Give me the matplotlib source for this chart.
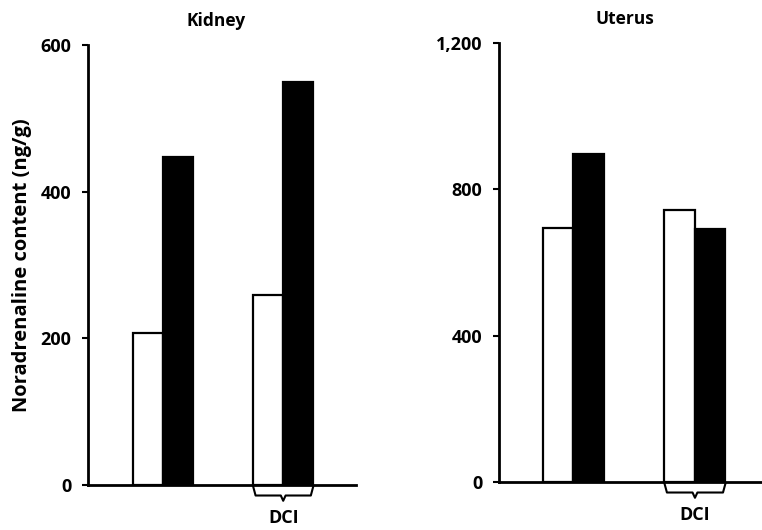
import numpy as np
import matplotlib.pyplot as plt

plt.rcParams['font.family'] = ['Open Sans', 'DejaVu Sans']
plt.rcParams['font.weight'] = 'bold'

groups = ['Control', 'DCI']
kidney_open = [207, 259]
kidney_filled = [447, 549]
uterus_open = [694, 744]
uterus_filled = [897, 692]

kidney_ticks = [0, 200, 400, 600]
kidney_ticklabels = ['0', '200', '400', '600']
uterus_ticks = [0, 400, 800, 1200]
uterus_ticklabels = ['0', '400', '800', '1,200']

fig = plt.figure(figsize=(7.62, 5.30), dpi=100)
ax1 = fig.add_axes([0.1155, 0.085, 0.352, 0.83])
ax2 = fig.add_axes([0.655, 0.0906, 0.345, 0.828])

w = 0.25
pos = np.arange(1, len(groups) + 1)


def draw_panel(ax, open_vals, filled_vals, ticks, ticklabels, ymax, xlim, title):
    ax.bar(pos - w / 2, open_vals, w, color='white', edgecolor='black', linewidth=1.6)
    ax.bar(pos + w / 2, filled_vals, w, color='black', edgecolor='black', linewidth=1.6)
    ax.set_xlim(*xlim)
    ax.set_ylim(0, ymax)
    ax.set_yticks(ticks)
    ax.set_yticklabels(ticklabels, fontsize=13, fontweight='bold')
    ax.set_xticks([])
    for s in ['top', 'right']:
        ax.spines[s].set_visible(False)
    ax.spines['left'].set_linewidth(2)
    ax.spines['bottom'].set_linewidth(2)
    ax.tick_params(axis='y', length=4, width=1.5, direction='out', pad=8)
    ax.text(np.mean(xlim) - 0.05, ymax * 1.035, title, ha='center', va='bottom',
            fontsize=12.5, fontweight='bold')

    # brace under the DCI group
    x0, x1 = pos[1] - w, pos[1] + w
    xm = pos[1]
    d = ymax * 0.012
    yb = -ymax * 0.024
    ax.plot([x0, x0 + 0.02, xm - 0.02, xm, xm + 0.02, x1 - 0.02, x1],
            [-d * 0.3, yb, yb, yb - d, yb, yb, -d * 0.3],
            color='black', lw=1.5, clip_on=False)
    ax.text(xm, -ymax * 0.055, 'DCI', ha='center', va='top', fontsize=13,
            fontweight='bold')


draw_panel(ax1, kidney_open, kidney_filled, kidney_ticks, kidney_ticklabels,
           600, (0.375, 2.608), 'Kidney')
draw_panel(ax2, uterus_open, uterus_filled, uterus_ticks, uterus_ticklabels,
           1200, (0.393, 2.55), 'Uterus')

ax1.set_ylabel('Noradrenaline content (ng/g)', fontsize=14.5, fontweight='bold',
               labelpad=6)

fig.savefig('out.png', dpi=100)
